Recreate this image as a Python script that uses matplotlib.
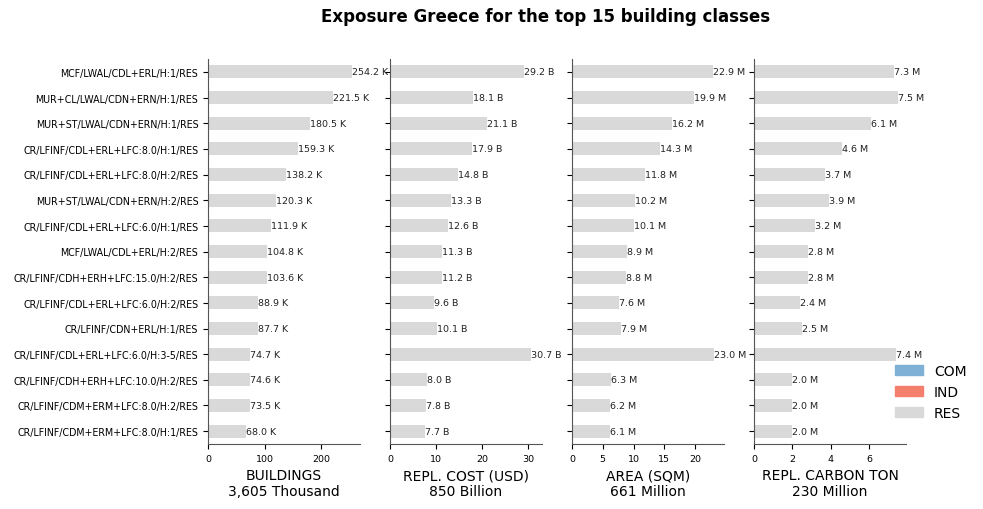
import matplotlib
matplotlib.use("Agg")
import matplotlib.pyplot as plt
from matplotlib.patches import Patch

classes = ["MCF/LWAL/CDL+ERL/H:1/RES","MUR+CL/LWAL/CDN+ERN/H:1/RES","MUR+ST/LWAL/CDN+ERN/H:1/RES",
"CR/LFINF/CDL+ERL+LFC:8.0/H:1/RES","CR/LFINF/CDL+ERL+LFC:8.0/H:2/RES","MUR+ST/LWAL/CDN+ERN/H:2/RES",
"CR/LFINF/CDL+ERL+LFC:6.0/H:1/RES","MCF/LWAL/CDL+ERL/H:2/RES","CR/LFINF/CDH+ERH+LFC:15.0/H:2/RES",
"CR/LFINF/CDL+ERL+LFC:6.0/H:2/RES","CR/LFINF/CDN+ERL/H:1/RES","CR/LFINF/CDL+ERL+LFC:6.0/H:3-5/RES",
"CR/LFINF/CDH+ERH+LFC:10.0/H:2/RES","CR/LFINF/CDM+ERM+LFC:8.0/H:2/RES","CR/LFINF/CDM+ERM+LFC:8.0/H:1/RES"]
buildings = [254.2,221.5,180.5,159.3,138.2,120.3,111.9,104.8,103.6,88.9,87.7,74.7,74.6,73.5,68.0]
cost = [29.2,18.1,21.1,17.9,14.8,13.3,12.6,11.3,11.2,9.6,10.1,30.7,8.0,7.8,7.7]
area = [22.9,19.9,16.2,14.3,11.8,10.2,10.1,8.9,8.8,7.6,7.9,23.0,6.3,6.2,6.1]
carbon = [7.3,7.5,6.1,4.6,3.7,3.9,3.2,2.8,2.8,2.4,2.5,7.4,2.0,2.0,2.0]
series = [buildings, cost, area, carbon]
units = [" K"," B"," M"," M"]
xlabels = ["BUILDINGS\n3,605 Thousand","REPL. COST (USD)\n850 Billion","AREA (SQM)\n661 Million","REPL. CARBON TON\n230 Million"]
xlims = [269, 33.0, 24.7, 7.93]
xticks = [[0,100,200],[0,10,20,30],[0,5,10,15,20],[0,2,4,6]]

fig = plt.figure(figsize=(9.83,5.10), dpi=100)
lefts = [208,390,572,754]
for i in range(4):
    ax = fig.add_axes([lefts[i]/983, 1-445/510, 152/983, 385/510])
    y = list(range(len(classes)))
    ax.barh(y, series[i], height=0.5, color="#d9d9d9")
    for yy, v in zip(y, series[i]):
        ax.text(v, yy, f"{v:.1f}{units[i]}", va="center", ha="left", fontsize=6.8, color="#222222")
    ax.set_ylim(len(classes)-0.5, -0.5)
    ax.set_xlim(0, xlims[i])
    ax.set_xticks(xticks[i])
    ax.tick_params(axis="x", labelsize=6.8)
    ax.set_yticks(y)
    if i == 0:
        ax.set_yticklabels(classes, fontsize=6.85)
    else:
        ax.set_yticklabels([])
    ax.set_xlabel(xlabels[i], fontsize=10)
    for s in ["top","right"]:
        ax.spines[s].set_visible(False)
    for s in ["left","bottom"]:
        ax.spines[s].set_color("#555555")

fig.suptitle("Exposure Greece for the top 15 building classes", fontsize=12, fontweight="bold", x=0.555, y=0.985)
handles = [Patch(color="#7fb0d6", label="COM"), Patch(color="#f47f6d", label="IND"), Patch(color="#d9d9d9", label="RES")]
fig.legend(handles=handles, loc="center left", bbox_to_anchor=(0.898, 0.23), frameon=False, fontsize=10)
fig.savefig("out.png", dpi=100)
